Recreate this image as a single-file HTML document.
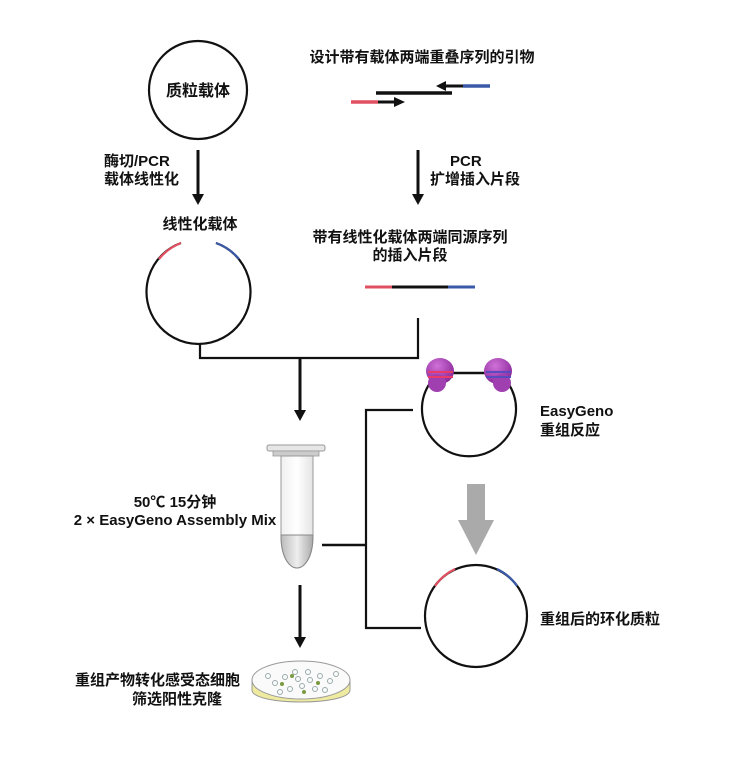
<!DOCTYPE html>
<html><head><meta charset="utf-8"><style>
html,body{margin:0;padding:0;background:#fff;}
svg{display:block;}
text{font-family:"Liberation Sans","Noto Sans CJK SC",sans-serif;fill:#111;font-weight:bold;}
</style></head><body>
<svg width="748" height="764" viewBox="0 0 748 764" xmlns="http://www.w3.org/2000/svg">
<defs>
<radialGradient id="pg" cx="0.4" cy="0.3" r="0.7"><stop offset="0" stop-color="#d070d8"/><stop offset="1" stop-color="#8a2a9a"/></radialGradient>
<linearGradient id="tg" x1="0" x2="1"><stop offset="0" stop-color="#f0f0f0"/><stop offset="0.5" stop-color="#fff"/><stop offset="1" stop-color="#e4e4e4"/></linearGradient>
<linearGradient id="tb" x1="0" x2="1"><stop offset="0" stop-color="#bbb"/><stop offset="0.5" stop-color="#eee"/><stop offset="1" stop-color="#aaa"/></linearGradient>
</defs>

<circle cx="198" cy="90" r="49" fill="none" stroke="#111" stroke-width="2.2"/>
<text x="198" y="96" font-size="16" text-anchor="middle">质粒载体</text>
<line x1="198" y1="150" x2="198" y2="197" stroke="#111" stroke-width="3"/>
<path d="M192,194 L204,194 L198,205 z" fill="#111"/>
<text x="104" y="166" font-size="15">酶切/PCR</text>
<text x="104" y="184" font-size="15">载体线性化</text>
<text x="200" y="229" font-size="15" text-anchor="middle">线性化载体</text>

<path d="M181,243 A52,52 0 1 0 216,243" fill="none" stroke="#111" stroke-width="2.2"/>
<path d="M181,243 A52,52 0 0 0 159,259" fill="none" stroke="#e05060" stroke-width="2.2"/>
<path d="M216,243 A52,52 0 0 1 239,259" fill="none" stroke="#3a5aa8" stroke-width="2.2"/>
<polyline points="200,343 200,358 418,358 418,318" fill="none" stroke="#111" stroke-width="2.2"/>
<line x1="300" y1="358" x2="300" y2="412" stroke="#111" stroke-width="3"/>
<path d="M294,410 L306,410 L300,421 z" fill="#111"/>

<text x="422" y="62" font-size="15" text-anchor="middle">设计带有载体两端重叠序列的引物</text>
<line x1="376" y1="93" x2="452" y2="93" stroke="#111" stroke-width="3.5"/>
<line x1="463" y1="86" x2="490" y2="86" stroke="#3a5aa8" stroke-width="3.5"/>
<line x1="444" y1="86" x2="463" y2="86" stroke="#111" stroke-width="3"/>
<path d="M446,81 L436,86 L446,91 z" fill="#111"/>
<line x1="351" y1="102" x2="378" y2="102" stroke="#e05060" stroke-width="3.5"/>
<line x1="378" y1="102" x2="396" y2="102" stroke="#111" stroke-width="3"/>
<path d="M394,97 L405,102 L394,107 z" fill="#111"/>

<line x1="418" y1="150" x2="418" y2="197" stroke="#111" stroke-width="3"/>
<path d="M412,194 L424,194 L418,205 z" fill="#111"/>
<text x="450" y="166" font-size="15">PCR</text>
<text x="430" y="184" font-size="15">扩增插入片段</text>
<text x="410" y="242" font-size="15" text-anchor="middle">带有线性化载体两端同源序列</text>
<text x="410" y="260" font-size="15" text-anchor="middle">的插入片段</text>
<line x1="365" y1="287" x2="392" y2="287" stroke="#e05060" stroke-width="3"/>
<line x1="392" y1="287" x2="448" y2="287" stroke="#111" stroke-width="3"/>
<line x1="448" y1="287" x2="475" y2="287" stroke="#3a5aa8" stroke-width="3"/>

<path d="M430,383 A47,47 0 1 0 508,383" fill="none" stroke="#111" stroke-width="2.2"/>
<line x1="450" y1="373" x2="488" y2="373" stroke="#111" stroke-width="2.5"/>
<g>
<ellipse cx="440" cy="371" rx="14" ry="13" fill="url(#pg)"/>
<ellipse cx="437" cy="383" rx="9" ry="9" fill="#a040b0"/>
<line x1="428" y1="372" x2="453" y2="372" stroke="#e83a6a" stroke-width="2"/>
<line x1="428" y1="377" x2="453" y2="377" stroke="#e83a6a" stroke-width="2"/>
<ellipse cx="498" cy="371" rx="14" ry="13" fill="url(#pg)"/>
<ellipse cx="502" cy="383" rx="9" ry="9" fill="#a040b0"/>
<line x1="486" y1="372" x2="511" y2="372" stroke="#5a4ac0" stroke-width="2"/>
<line x1="486" y1="377" x2="511" y2="377" stroke="#5a4ac0" stroke-width="2"/>
</g>
<polyline points="413,410 366,410 366,628 421,628" fill="none" stroke="#111" stroke-width="2.2"/>
<line x1="322" y1="545" x2="366" y2="545" stroke="#111" stroke-width="2.5"/>
<text x="540" y="416" font-size="15">EasyGeno</text>
<text x="540" y="435" font-size="15">重组反应</text>

<rect x="467" y="484" width="18" height="38" fill="#aaa"/>
<path d="M458,520 L494,520 L476,555 z" fill="#aaa"/>

<circle cx="476" cy="616" r="51" fill="none" stroke="#111" stroke-width="2.2"/>
<path d="M435,586 A51,51 0 0 1 455,569" fill="none" stroke="#e05060" stroke-width="2.2"/>
<path d="M497,569 A51,51 0 0 1 517,586" fill="none" stroke="#3a5aa8" stroke-width="2.2"/>
<text x="540" y="624" font-size="15">重组后的环化质粒</text>

<rect x="267" y="445" width="58" height="6" rx="2" fill="#e6e6e6" stroke="#999" stroke-width="1"/>
<rect x="273" y="451" width="46" height="5" fill="#ccc" stroke="#999" stroke-width="0.8"/>
<path d="M281,456 L313,456 L313,536 C313,560 303,568 297,568 C291,568 281,560 281,536 Z" fill="url(#tg)" stroke="#999" stroke-width="1"/>
<path d="M281,535 L313,535 C313,560 303,568 297,568 C291,568 281,560 281,535 Z" fill="url(#tb)" stroke="#888" stroke-width="1"/>
<text x="175" y="507" font-size="15" text-anchor="middle">50℃  15分钟</text>
<text x="175" y="525" font-size="15" text-anchor="middle">2 × EasyGeno Assembly Mix</text>

<line x1="300" y1="585" x2="300" y2="640" stroke="#111" stroke-width="3"/>
<path d="M294,637 L306,637 L300,648 z" fill="#111"/>

<path d="M252,680 L252,690 C252,706 350,706 350,690 L350,680 Z" fill="#eeeaa0" stroke="#999" stroke-width="1"/>
<ellipse cx="301" cy="680" rx="49" ry="19" fill="#fafafa" stroke="#999" stroke-width="1"/>
<g fill="none" stroke="#9aa" stroke-width="1">
<circle cx="275" cy="683" r="2.5"/><circle cx="285" cy="677" r="2.5"/><circle cx="295" cy="672" r="2.5"/>
<circle cx="308" cy="672" r="2.5"/><circle cx="320" cy="676" r="2.5"/><circle cx="330" cy="681" r="2.5"/>
<circle cx="290" cy="689" r="2.5"/><circle cx="302" cy="686" r="2.5"/><circle cx="315" cy="689" r="2.5"/>
<circle cx="325" cy="690" r="2.5"/><circle cx="280" cy="692" r="2.5"/><circle cx="298" cy="679" r="2.5"/>
<circle cx="268" cy="676" r="2.5"/><circle cx="336" cy="674" r="2.5"/><circle cx="310" cy="680" r="2.5"/>
</g>
<g fill="#7a9a40"><circle cx="282" cy="684" r="2"/><circle cx="304" cy="692" r="2"/><circle cx="318" cy="683" r="2"/><circle cx="292" cy="676" r="2"/></g>
<text x="240" y="685" font-size="15" text-anchor="end">重组产物转化感受态细胞</text>
<text x="222" y="704" font-size="15" text-anchor="end">筛选阳性克隆</text>
</svg>
</body></html>
